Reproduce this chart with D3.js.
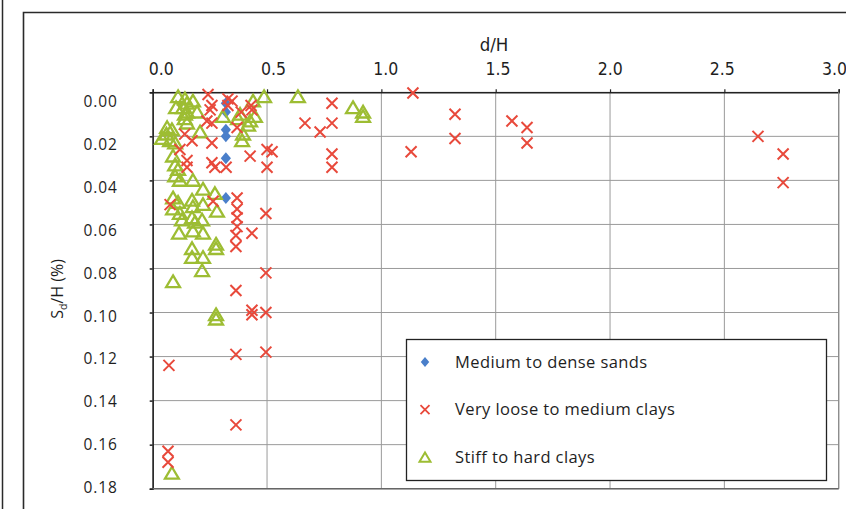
<!DOCTYPE html>
<html><head><meta charset="utf-8">
<script src="https://cdn.jsdelivr.net/npm/d3@7"></script>
<style>
body{margin:0;background:#fff;}
svg{display:block;}
text{fill:#1e1e1e;}
</style></head>
<body>
<svg id="chart" width="846" height="509"></svg>
<script>
// ---- data (d/H, Sd/H %) ----
const seriesNames = ["Medium to dense sands", "Very loose to medium clays", "Stiff to hard clays"];
const xTicks = [0, 0.5, 1.0, 1.5, 2.0, 2.5, 3.0];
const yTicks = [0, 0.02, 0.04, 0.06, 0.08, 0.10, 0.12, 0.14, 0.16, 0.18];

const sands = [
  [0.32,0.005],[0.32,0.009],[0.32,0.017],[0.32,0.020],[0.32,0.030],[0.32,0.048]
];

const looseClays = [
  [0.242,0.001],[0.259,0.006],[0.251,0.008],[0.329,0.003],[0.329,0.006],[0.347,0.004],
  [0.237,0.013],[0.259,0.014],[0.434,0.008],[0.430,0.006],[0.369,0.016],[0.387,0.009],
  [0.259,0.023],[0.140,0.019],[0.172,0.022],[0.150,0.031],[0.119,0.026],[0.150,0.034],
  [0.259,0.032],[0.272,0.034],[0.321,0.034],[0.500,0.026],[0.522,0.027],[0.426,0.029],
  [0.500,0.034],[0.076,0.051],[0.264,0.0495],[0.369,0.048],[0.369,0.053],[0.369,0.057],
  [0.369,0.061],[0.364,0.065],[0.364,0.070],[0.434,0.064],[0.495,0.055],[0.495,0.082],
  [0.364,0.090],[0.434,0.099],[0.434,0.101],[0.495,0.100],[0.364,0.119],[0.495,0.118],
  [0.071,0.124],[0.364,0.151],[0.067,0.163],[0.067,0.168],
  [0.666,0.014],[0.784,0.005],[0.784,0.014],[0.732,0.018],[0.784,0.028],[0.784,0.034],
  [1.138,0.0003],[1.322,0.010],[1.322,0.021],[1.130,0.027],[1.571,0.013],[1.637,0.016],
  [1.637,0.023],[2.647,0.020],[2.757,0.028],[2.757,0.041]
];

const stiffClays = [
  [0.111,0.002],[0.141,0.003],[0.176,0.004],[0.102,0.007],[0.133,0.007],[0.141,0.010],
  [0.150,0.014],[0.194,0.009],[0.150,0.005],[0.150,0.009],[0.063,0.016],[0.084,0.017],
  [0.041,0.021],[0.076,0.022],[0.098,0.023],[0.207,0.018],[0.140,0.012],[0.060,0.019],
  [0.439,0.004],[0.487,0.002],[0.635,0.002],[0.382,0.010],[0.426,0.013],[0.447,0.011],
  [0.391,0.022],[0.395,0.019],[0.307,0.011],[0.417,0.015],[0.373,0.012],
  [0.089,0.029],[0.098,0.033],[0.111,0.035],[0.098,0.038],[0.119,0.040],[0.176,0.040],
  [0.220,0.044],[0.272,0.046],[0.089,0.048],[0.111,0.050],[0.089,0.053],[0.119,0.055],
  [0.172,0.049],[0.176,0.052],[0.220,0.051],[0.281,0.054],[0.172,0.057],[0.185,0.059],
  [0.216,0.058],[0.128,0.058],[0.115,0.064],[0.176,0.063],[0.220,0.064],[0.172,0.071],
  [0.172,0.075],[0.220,0.075],[0.277,0.069],[0.277,0.071],[0.216,0.081],[0.089,0.086],
  [0.277,0.101],[0.277,0.103],[0.084,0.173],
  [0.876,0.007],[0.920,0.009],[0.920,0.011]
];

// ---- drawing ----
const svg = d3.select("#chart");
const FONT = "'Open Sans', 'DejaVu Sans', sans-serif";
const NARROW = "'Liberation Sans Narrow', 'DejaVu Sans Condensed', 'Roboto', sans-serif";

const x = d3.scaleLinear().domain([0, 3]).range([152.7, 838.7]);
const y = d3.scaleLinear().domain([0, 0.18]).range([92.3, 488.7]);

// outer frames
svg.append("line").attr("x1",2.5).attr("x2",2.5).attr("y1",0).attr("y2",509)
  .attr("stroke","#2a2a2a").attr("stroke-width",1.5);
svg.append("path").attr("d","M23.5,509 L23.5,12.5 L846,12.5")
  .attr("fill","none").attr("stroke","#2a2a2a").attr("stroke-width",1.6);

// grid
const grid = svg.append("g");
grid.selectAll("line.h").data(yTicks).join("line")
  .attr("x1", x(0)).attr("x2", x(3)).attr("y1", d=>y(d)).attr("y2", d=>y(d))
  .attr("stroke","#9a9a9a").attr("stroke-width",1);
grid.selectAll("line.v").data(xTicks).join("line")
  .attr("y1", y(0)).attr("y2", y(0.18)).attr("x1", d=>x(d)).attr("x2", d=>x(d))
  .attr("stroke","#9a9a9a").attr("stroke-width",1);

// axes
const yAxis = d3.axisLeft(y).tickValues(yTicks).tickFormat(d3.format(".2f")).tickSize(3).tickPadding(32);
const gy = svg.append("g").attr("transform",`translate(${x(0)},0)`).call(yAxis);
gy.select(".domain").attr("stroke","#222").attr("stroke-width",1.5);
gy.selectAll(".tick line").attr("stroke","#222").attr("stroke-width",1.5);
gy.selectAll(".tick text").attr("font-family",FONT).attr("font-size",15.5)
  .attr("letter-spacing","0.9px").attr("fill","#1e1e1e")
  .attr("dy",(d,i)=> (5 + 9 - 1.1*i) + "px");

const xAxis = d3.axisTop(x).tickValues(xTicks).tickFormat(d3.format(".1f")).tickSize(3).tickPadding(14);
const gx = svg.append("g").attr("transform",`translate(0,${y(0)})`).call(xAxis);
gx.select(".domain").attr("stroke","#222").attr("stroke-width",1.5);
gx.selectAll(".tick line").attr("stroke","#222").attr("stroke-width",1.2);
gx.selectAll(".tick text").attr("font-family",NARROW).attr("font-size",17.5)
  .attr("fill","#1e1e1e").attr("dx",(d,i)=> (8 - 2.1*i));

// right & bottom plot edges
svg.append("line").attr("x1",x(3)).attr("x2",x(3)).attr("y1",y(0)).attr("y2",y(0.18))
  .attr("stroke","#8a8a8a").attr("stroke-width",1.2);
svg.append("line").attr("x1",x(0)).attr("x2",x(3)).attr("y1",y(0.18)).attr("y2",y(0.18))
  .attr("stroke","#666").attr("stroke-width",1.4);

// axis titles
svg.append("text").attr("x",494).attr("y",51).attr("text-anchor","middle")
  .attr("font-family",NARROW).attr("font-size",18.5).text("d/H");
const yt = svg.append("text").attr("transform","translate(63,289) rotate(-90)")
  .attr("text-anchor","middle").attr("font-family",FONT).attr("font-size",16);
yt.append("tspan").text("S");
yt.append("tspan").attr("font-size",10.5).attr("dy",4).text("d");
yt.append("tspan").attr("dy",-4).text("/H (%)");

// markers
const RED = "#e8493b", GREEN = "#9dbd33", BLUE = "#4a7fca";
const xPath = s => `M${-s},${-s}L${s},${s}M${-s},${s}L${s},${-s}`;
const triPath = s => `M0,${-s}L${s*1.1},${s*0.85}L${-s*1.1},${s*0.85}Z`;
const diaPath = s => `M0,${-s}L${s*0.85},0L0,${s}L${-s*0.85},0Z`;

const pts = svg.append("g");
pts.selectAll("path.sand").data(sands).join("path").attr("class","sand")
  .attr("transform", d=>`translate(${x(d[0])},${y(d[1])})`)
  .attr("d", diaPath(6)).attr("fill", BLUE);
pts.selectAll("path.stiff").data(stiffClays).join("path").attr("class","stiff")
  .attr("transform", d=>`translate(${x(d[0])},${y(d[1])})`)
  .attr("d", triPath(6.3)).attr("fill","none").attr("stroke",GREEN).attr("stroke-width",2.3)
  .attr("stroke-linejoin","miter");
pts.selectAll("path.loose").data(looseClays).join("path").attr("class","loose")
  .attr("transform", d=>`translate(${x(d[0])},${y(d[1])})`)
  .attr("d", xPath(5.5)).attr("fill","none").attr("stroke",RED).attr("stroke-width",2);

// legend
const lg = svg.append("g");
lg.append("rect").attr("x",406.5).attr("y",339.5).attr("width",420).attr("height",141)
  .attr("fill","#fff").attr("stroke","#222").attr("stroke-width",1.3);
const legendItems = [
  {name: seriesNames[0], d: diaPath(5), fill: BLUE, stroke: "none", sw: 0},
  {name: seriesNames[1], d: xPath(4.5), fill: "none", stroke: RED, sw: 1.8},
  {name: seriesNames[2], d: triPath(5), fill: "none", stroke: GREEN, sw: 2}
];
const li = lg.selectAll("g.item").data(legendItems).join("g")
  .attr("transform",(d,i)=>`translate(425,${362 + i*47.7})`);
li.append("path").attr("d", d=>d.d).attr("fill", d=>d.fill)
  .attr("stroke", d=>d.stroke).attr("stroke-width", d=>d.sw);
li.append("text").attr("x",30).attr("dy","0.35em").attr("font-family",FONT)
  .attr("font-size",16.5).attr("letter-spacing","0.4px").text(d=>d.name);
</script>
</body></html>
